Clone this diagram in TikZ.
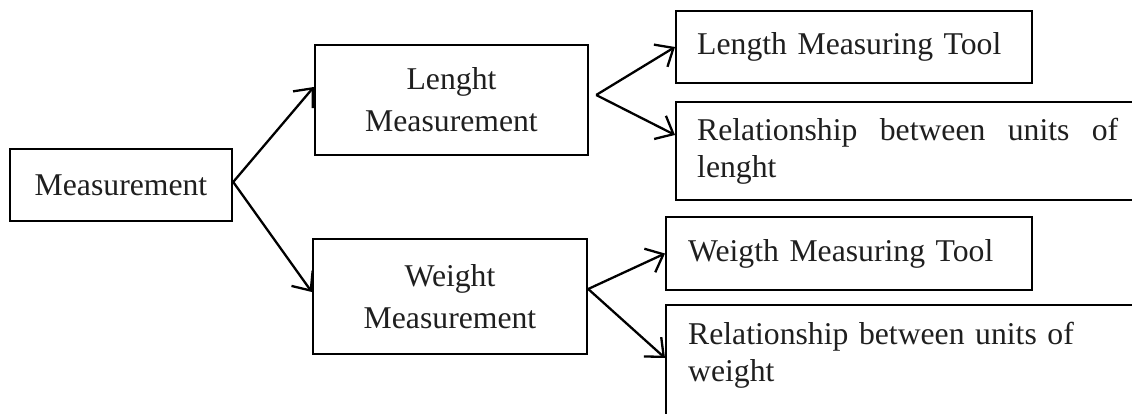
\documentclass[tikz,border=0pt]{standalone}
\usepackage{fontspec}
\setmainfont{Liberation Serif}
\usetikzlibrary{arrows.meta}
\begin{document}
\begin{tikzpicture}[x=1pt,y=-1pt,
  box/.style={draw=black, line width=2.4pt, rectangle, inner sep=0pt, text=black!88,
    font=\fontsize{31.7}{37}\selectfont},
  midbox/.style={box, align=center, font=\fontsize{31.7}{42}\selectfont},
  rbox/.style={box, anchor=west, align=left},
  arr/.style={line width=2.3pt, -{Straight Barb[length=15pt,width=26pt]}}]
\useasboundingbox (0,0) rectangle (1132,414);
\clip (0,0) rectangle (1132,414);
\node[box, minimum width=222pt, minimum height=72pt] (meas) at (121,185) {Measurement};
\node[midbox, minimum width=273pt, minimum height=110pt] (len) at (451.5,100) {Lenght\\Measurement};
\node[midbox, minimum width=274pt, minimum height=115pt] (wei) at (450,296.5) {Weight\\Measurement};
\node[rbox, text width=314pt, inner xsep=21pt, minimum height=72pt] (lt) at (675,47) {Length Measuring Tool};
\node[rbox, text width=421pt, inner xsep=21pt, minimum height=98pt] (lr) at (675,151) {Relationship\hfill between\hfill units\hfill of\\lenght};
\node[rbox, text width=322pt, inner xsep=22pt, minimum height=73pt] (wt) at (665,253.5) {Weigth Measuring Tool};
\node[rbox, text width=440pt, inner xsep=22pt, minimum height=130pt] (wr) at (665,370) {Relationship between units of\\weight\\\mbox{}};
\draw[arr] ([yshift=3pt]meas.east) -- ([yshift=13pt]len.west);
\draw[arr] ([yshift=3pt]meas.east) -- ([yshift=4.5pt]wei.west);
\draw[arr] ([xshift=7pt,yshift=5pt]len.east) -- (lt.west);
\draw[arr] ([xshift=7pt,yshift=5pt]len.east) -- ([yshift=16pt]lr.west);
\draw[arr] ([yshift=7.5pt]wei.east) -- (wt.west);
\draw[arr] ([yshift=7.5pt]wei.east) -- ([yshift=12pt]wr.west);
\end{tikzpicture}
\end{document}
